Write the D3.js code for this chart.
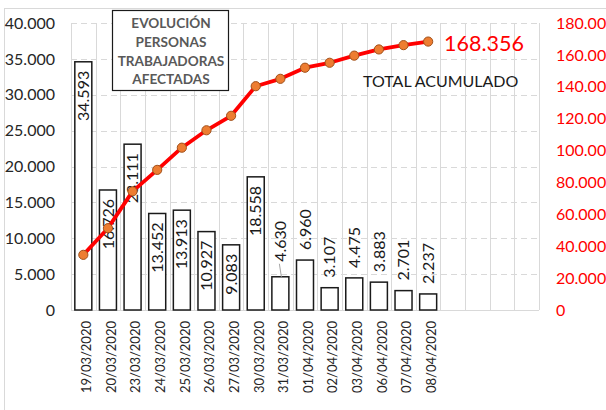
<!DOCTYPE html>
<html>
<head>
<meta charset="utf-8">
<script src="https://cdn.jsdelivr.net/npm/d3@7"></script>
<style>
  body { margin: 0; background: #fff; }
  svg { display: block; font-family: Lato, "Open Sans", sans-serif; }
</style>
</head>
<body>
<div id="chart"></div>
<script>
// Daily values (bars, left axis) and running total (line, right axis)
const dates = ["19/03/2020", "20/03/2020", "23/03/2020", "24/03/2020", "25/03/2020",
               "26/03/2020", "27/03/2020", "30/03/2020", "31/03/2020", "01/04/2020",
               "02/04/2020", "03/04/2020", "06/04/2020", "07/04/2020", "08/04/2020"];
const daily = [34593, 16726, 23111, 13452, 13913, 10927, 9083, 18558, 4630, 6960,
               3107, 4475, 3883, 2701, 2237];
const cumulative = [34593, 51319, 74430, 87882, 101795, 112722, 121805, 140363, 144993,
                    151953, 155060, 159535, 163418, 166119, 168356];
const emptySlots = 4;
const leftTicks = [0, 5000, 10000, 15000, 20000, 25000, 30000, 35000, 40000];
const rightTicks = [0, 20000, 40000, 60000, 80000, 100000, 120000, 140000, 160000, 180000];
const titleLines = ["EVOLUCIÓN", "PERSONAS", "TRABAJADORAS", "AFECTADAS"];

const W = 606, H = 410;
const plot = {left: 71, right: 539, top: 23, bottom: 310};

const es = d3.formatLocale({decimal: ",", thousands: ".", grouping: [3], currency: ["", "€"]});
const fmt = es.format(",d");

const svg = d3.select("#chart").append("svg")
    .attr("width", W)
    .attr("height", H);

// chart area border
svg.append("rect")
   .attr("x", 4.5).attr("y", 8.5)
   .attr("width", 700).attr("height", 600)
   .attr("fill", "none")
   .attr("stroke", "#d9d9d9");

// Scales
const slots = d3.range(dates.length + emptySlots);
const x = d3.scaleBand()
            .domain(slots)
            .range([plot.left, plot.right])
            .paddingInner(0.31)
            .paddingOuter(0.155);

const yL = d3.scaleLinear().domain([0, 40000]).range([plot.bottom, plot.top]);
const yR = d3.scaleLinear().domain([0, 180000]).range([plot.bottom, plot.top]);

// Horizontal dashed grid
svg.append("g")
   .selectAll("line")
   .data(leftTicks.slice(1))
   .join("line")
   .attr("x1", plot.left).attr("x2", plot.right)
   .attr("y1", d => Math.round(yL(d)) + 0.5)
   .attr("y2", d => Math.round(yL(d)) + 0.5)
   .attr("stroke", "#d9d9d9")
   .attr("stroke-dasharray", "6,4");

// Vertical grid at category boundaries
const step = x.step();
svg.append("g")
   .selectAll("line")
   .data(d3.range(slots.length + 1))
   .join("line")
   .attr("x1", i => Math.round(plot.left + i * step) + 0.5)
   .attr("x2", i => Math.round(plot.left + i * step) + 0.5)
   .attr("y1", plot.top)
   .attr("y2", plot.bottom)
   .attr("stroke", "#d9d9d9");

// Bottom axis line
svg.append("line")
   .attr("x1", plot.left).attr("x2", plot.right)
   .attr("y1", plot.bottom + 0.5).attr("y2", plot.bottom + 0.5)
   .attr("stroke", "#d9d9d9");

// Left axis
const axL = svg.append("g")
   .attr("transform", `translate(${plot.left},0)`)
   .call(d3.axisLeft(yL).tickValues(leftTicks).tickFormat(fmt).tickSize(0).tickPadding(16));
axL.select(".domain").remove();
axL.selectAll("text")
   .attr("font-family", "Lato, sans-serif")
   .attr("font-size", 16)
   .attr("fill", "#262626");

// Right axis
const axR = svg.append("g")
   .attr("transform", `translate(${plot.right},0)`)
   .call(d3.axisRight(yR).tickValues(rightTicks).tickFormat(fmt).tickSize(0).tickPadding(17));
axR.select(".domain").remove();
axR.selectAll("text")
   .attr("font-family", "Lato, sans-serif")
   .attr("font-size", 16)
   .attr("fill", "#ff0000");

// Bottom axis (rotated dates)
const axB = svg.append("g")
   .attr("transform", `translate(0,${plot.bottom})`)
   .call(d3.axisBottom(x).tickFormat(i => dates[i] || "").tickSize(0));
axB.select(".domain").remove();
axB.selectAll("text")
   .attr("font-family", "Lato, sans-serif")
   .attr("font-size", 13)
   .attr("fill", "#262626")
   .attr("text-anchor", "end")
   .attr("transform", "rotate(-90)")
   .attr("x", -11)
   .attr("y", 0)
   .attr("dx", 0)
   .attr("dy", "0.6em");

// Bars
const barData = daily.map((v, i) => ({i, v}));
svg.append("g")
   .selectAll("rect")
   .data(barData)
   .join("rect")
   .attr("x", d => x(d.i))
   .attr("y", d => yL(d.v))
   .attr("width", x.bandwidth())
   .attr("height", d => yL(0) - yL(d.v))
   .attr("fill", "#fff")
   .attr("stroke", "#1a1a1a")
   .attr("stroke-width", 1.5);

// Bar labels: inside end for tall bars, above for short ones
const inside = d => d.v >= 8000;
svg.append("g")
   .selectAll("text")
   .data(barData)
   .join("text")
   .attr("transform", d => {
       const cx = x(d.i) + x.bandwidth() / 2;
       const yy = inside(d) ? yL(d.v) + 9 : yL(d.v) - (d.i === 8 ? 15 : 10);
       return `translate(${cx},${yy}) rotate(-90)`;
   })
   .attr("text-anchor", d => inside(d) ? "end" : "start")
   .attr("dy", "0.35em")
   .attr("font-size", 16)
   .attr("fill", "#1a1a1a")
   .text(d => fmt(d.v));

// Leader line for 31/03
svg.append("line")
   .attr("x1", x(8) + x.bandwidth() / 2 + 1)
   .attr("x2", x(8) + x.bandwidth() / 2 - 1)
   .attr("y1", yL(daily[8]))
   .attr("y2", yL(daily[8]) - 13)
   .attr("stroke", "#a6a6a6");

// Cumulative line
const cx = i => x(i) + x.bandwidth() / 2;
svg.append("path")
   .datum(cumulative)
   .attr("d", d3.line().x((d, i) => cx(i)).y(d => yR(d)))
   .attr("fill", "none")
   .attr("stroke", "#ff0000")
   .attr("stroke-width", 3.8)
   .attr("stroke-linejoin", "round");

svg.append("g")
   .selectAll("circle")
   .data(cumulative)
   .join("circle")
   .attr("cx", (d, i) => cx(i))
   .attr("cy", d => yR(d))
   .attr("r", 4.6)
   .attr("fill", "#ed7d31")
   .attr("stroke", "#a0501a")
   .attr("stroke-width", 1);

// Title box
svg.append("rect")
   .attr("x", 112.5).attr("y", 10.5)
   .attr("width", 116).attr("height", 80)
   .attr("fill", "#fff")
   .attr("stroke", "#1a1a1a")
   .attr("stroke-width", 1.2);

svg.append("g")
   .selectAll("text")
   .data(titleLines)
   .join("text")
   .attr("x", 171)
   .attr("y", (d, i) => 28 + i * 18.8)
   .attr("text-anchor", "middle")
   .attr("font-size", 13.6)
   .attr("font-weight", "bold")
   .attr("fill", "#595959")
   .text(d => d);

// Total annotation
svg.append("text")
   .attr("x", 444).attr("y", 51)
   .attr("font-size", 21.5)
   .attr("fill", "#ff0000")
   .text(fmt(cumulative[cumulative.length - 1]));

svg.append("text")
   .attr("x", 363).attr("y", 87)
   .attr("font-size", 16)
   .attr("fill", "#1a1a1a")
   .text("TOTAL ACUMULADO");
</script>
</body>
</html>
